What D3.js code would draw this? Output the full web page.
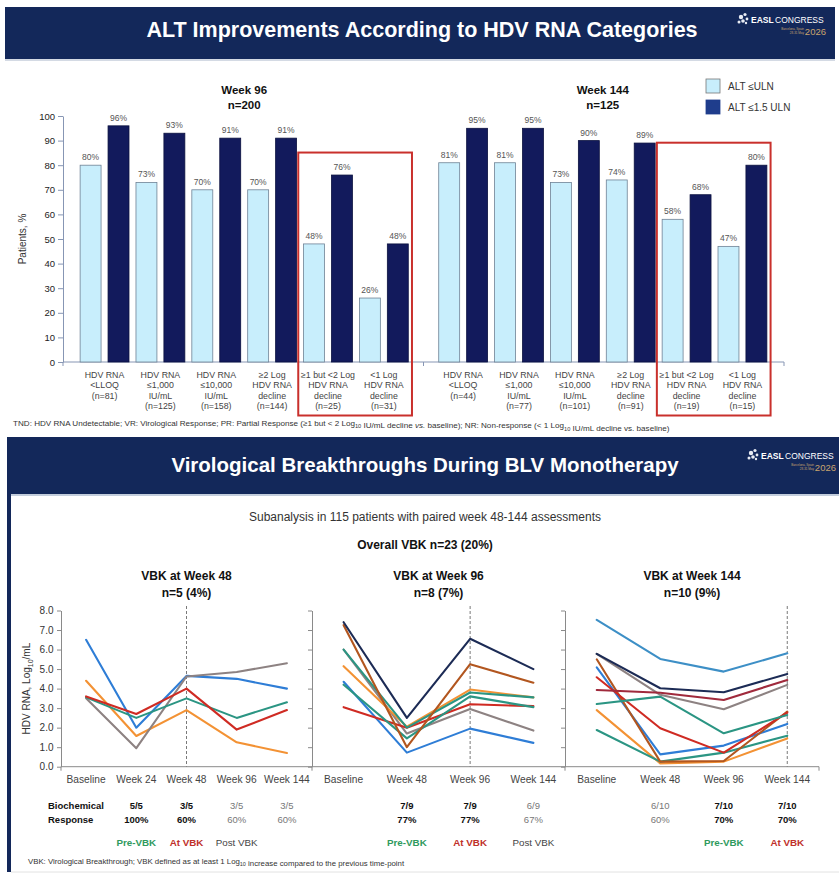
<!DOCTYPE html>
<html><head><meta charset="utf-8">
<script src="https://cdn.jsdelivr.net/npm/d3@7"></script>
<style>
body{margin:0;background:#fff;}
svg{display:block;}
</style></head><body>
<script>
// ---------------- DATA ----------------
const altCategoryLines = [["HDV RNA","<LLOQ"],["HDV RNA","≤1,000","IU/mL"],["HDV RNA","≤10,000","IU/mL"],["≥2 Log","HDV RNA","decline"],["≥1 but <2 Log","HDV RNA","decline"],["<1 Log","HDV RNA","decline"]];
const altGroups = ["Week 96","Week 144"];
const altGroupN = ["n=200","n=125"];
const altSeries = ["ALT ≤ULN","ALT ≤1.5 ULN"];
const week96N = [81,125,158,144,25,31];
const week144N = [44,77,101,91,19,15];
const week96AltUln = [80,73,70,70,48,26];
const week96Alt15Uln = [96,93,91,91,76,48];
const week144AltUln = [81,81,73,74,58,47];
const week144Alt15Uln = [95,95,90,89,68,80];
const altYTicks = [0,10,20,30,40,50,60,70,80,90,100];
const altHighlighted = [4,5];

const vbkTime48 = ["Baseline","Week 24","Week 48","Week 96","Week 144"];
const vbkTime = ["Baseline","Week 48","Week 96","Week 144"];
const vbkYTicks = [0,1,2,3,4,5,6,7,8];
const vbkPanelTitles = ["VBK at Week 48","VBK at Week 96","VBK at Week 144"];
const vbkPanelN = ["n=5 (4%)","n=8 (7%)","n=10 (9%)"];
const vbkAt = ["Week 48","Week 96","Week 144"];
const vbk48Values = [
  [6.5, 2.0, 4.65, 4.5, 4.0],
  [4.4, 1.57, 2.9, 1.25, 0.7],
  [3.5, 0.95, 4.62, 4.85, 5.3],
  [3.55, 2.5, 3.5, 2.5, 3.3],
  [3.6, 2.7, 4.0, 1.9, 2.9]
];
const vbk96Values = [
  [4.35, 0.72, 1.95, 1.22],
  [6.0, 1.7, 2.95, 1.85],
  [3.05, 2.0, 3.2, 3.1],
  [4.2, 1.45, 3.6, 3.05],
  [5.15, 2.05, 3.95, 3.55],
  [6.0, 2.0, 3.8, 3.55],
  [7.25, 1.0, 5.25, 4.3],
  [7.4, 2.5, 6.55, 5.0]
];
const vbk144Values = [
  [2.9, 0.17, 0.26, 1.45],
  [1.88, 0.26, 0.72, 1.59],
  [5.09, 0.63, 1.08, 2.19],
  [5.5, 0.26, 0.29, 2.82],
  [4.58, 1.97, 0.72, 2.77],
  [3.21, 3.59, 1.71, 2.65],
  [5.78, 3.68, 2.94, 4.19],
  [3.93, 3.79, 3.42, 4.44],
  [5.78, 4.02, 3.81, 4.75],
  [7.52, 5.52, 4.87, 5.81]
];
const bio48Ratio = ["","5/5","3/5","3/5","3/5"];
const bio48Pct = ["","100%","60%","60%","60%"];
const bio96Ratio = ["","7/9","7/9","6/9"];
const bio96Pct = ["","77%","77%","67%"];
const bio144Ratio = ["","6/10","7/10","7/10"];
const bio144Pct = ["","60%","70%","70%"];
const phase48 = ["","Pre-VBK","At VBK","Post VBK",""];
const phase96 = ["","Pre-VBK","At VBK","Post VBK"];
const phase144 = ["","","Pre-VBK","At VBK"];

// ---------------- STYLE ----------------
const FONT = '"Liberation Sans", Arial, Helvetica, sans-serif';
const NAVY = "#13285a";
const C = {blue:"#2e7dd6", lblue:"#3d8fc6", orange:"#f39234", red:"#cf2b23", teal:"#2b9583",
           gray:"#8d8282", navy:"#1c2b55", rust:"#b2561f", maroon:"#a02a3c"};
const vbk48Colors = [C.blue, C.orange, C.gray, C.teal, C.red];
const vbk96Colors = [C.blue, C.gray, C.red, C.teal, C.orange, C.teal, C.rust, C.navy];
const vbk144Colors = [C.orange, C.teal, C.blue, C.rust, C.red, C.teal, C.gray, C.maroon, C.navy, C.lblue];
const phaseColors = {"Pre-VBK":"#2f9a5e","At VBK":"#c0302a","Post VBK":"#444"};

const W = 839, H = 882;
const svg = d3.select("body").append("svg").attr("width",W).attr("height",H).style("font-family",FONT);
svg.append("rect").attr("width",W).attr("height",H).attr("fill","#fff");

function richText(g, x, y, size, fill, parts){
  const t = g.append("text").attr("x",x).attr("y",y).attr("font-size",size).attr("fill",fill);
  parts.forEach(p=>{
    const [s,type] = p;
    if(type==="sub"){
      t.append("tspan").attr("dy",size*0.3).attr("font-size",size*0.7).text(s);
      t.append("tspan").attr("dy",-size*0.3).text("");
    } else if(type==="i"){
      t.append("tspan").attr("font-style","italic").text(s);
    } else t.append("tspan").text(s);
  });
  return t;
}

function drawLogo(right, top){
  const l = svg.append("g").attr("transform",`translate(${right},${top})`);
  [[-85,5,2.2],[-81,2.5,1.6],[-83,9,1.8],[-79,7,1.4],[-87,10,1.5],[-80,11,1.2]].forEach(c=>
    l.append("circle").attr("cx",c[0]).attr("cy",c[1]).attr("r",c[2]).attr("fill","#e8ecf4"));
  l.append("text").attr("x",-75).attr("y",11).attr("font-size",8.5).attr("font-weight","bold").attr("fill","#fff").text("EASL");
  l.append("text").attr("x",-51).attr("y",11).attr("font-size",8.5).attr("fill","#fff").text("CONGRESS");
  l.append("text").attr("x",0).attr("y",22.5).attr("text-anchor","end").attr("font-size",9.5).attr("fill","#c9a46e").text("2026");
  l.append("text").attr("x",-22).attr("y",17.5).attr("text-anchor","end").attr("font-size",3).attr("fill","#c9a46e").text("Barcelona, Spain");
  l.append("text").attr("x",-22).attr("y",21.5).attr("text-anchor","end").attr("font-size",3).attr("fill","#c9a46e").text("28-31 May");
}

// ================= TOP SLIDE =================
svg.append("rect").attr("x",5).attr("y",7).attr("width",830).attr("height",52).attr("fill",NAVY);
svg.append("rect").attr("x",5).attr("y",59).attr("width",830).attr("height",2).attr("fill","#d4dae4");
svg.append("text").attr("x",422).attr("y",37).attr("text-anchor","middle").attr("fill","#fff")
  .attr("font-size",21.5).attr("font-weight","bold").text("ALT Improvements According to HDV RNA Categories");
drawLogo(826, 12);

const altTable = [
  {group:altGroups[0], n:altGroupN[0], cats:week96N, vals:[week96AltUln, week96Alt15Uln]},
  {group:altGroups[1], n:altGroupN[1], cats:week144N, vals:[week144AltUln, week144Alt15Uln]}
];
const yAlt = d3.scaleLinear().domain([0,100]).range([362,116]);
const xGroup = d3.scaleBand().domain(altGroups).range([63,784]).paddingInner(0.0654).paddingOuter(0.038);
const xCat = d3.scaleBand().domain(d3.range(altCategoryLines.length)).range([0,xGroup.bandwidth()]);
const xSer = d3.scaleBand().domain(altSeries).range([0,xCat.bandwidth()]).paddingInner(0.25).paddingOuter(0.125);
const barFill = ["#c8eefc","#121a5c"];
const barStroke = ["#6f8295","#0b113f"];

// y axis
const yAx = svg.append("g").attr("transform","translate(63,0)")
  .call(d3.axisLeft(yAlt).tickValues(altYTicks).tickSize(5).tickSizeOuter(0).tickPadding(3));
yAx.select(".domain").attr("stroke","#8796b4");
yAx.selectAll(".tick line").attr("stroke","#8796b4");
yAx.selectAll(".tick text").attr("font-size",9.5).attr("fill","#222").attr("font-family",FONT);
svg.append("text").attr("transform",`translate(26,${(yAlt(0)+yAlt(100))/2}) rotate(-90)`)
  .attr("text-anchor","middle").attr("font-size",10).attr("fill","#333").text("Patients, %");

// x axis line
const [xr0,xr1] = xGroup.range();
svg.append("line").attr("x1",xr0).attr("x2",xr1).attr("y1",yAlt(0)).attr("y2",yAlt(0)).attr("stroke","#8796b4");
const midTick = (xGroup(altGroups[0])+xGroup.bandwidth()+xGroup(altGroups[1]))/2;
[xr0, midTick, xr1].forEach(x=> svg.append("line").attr("x1",x).attr("x2",x).attr("y1",yAlt(0)).attr("y2",yAlt(0)+4).attr("stroke","#8796b4"));

altTable.forEach(gd=>{
  const gx = xGroup(gd.group);
  const g = svg.append("g").attr("transform",`translate(${gx},0)`);
  g.append("text").attr("x",xGroup.bandwidth()/2).attr("y",94).attr("text-anchor","middle")
    .attr("font-size",11.5).attr("font-weight","bold").attr("fill","#111").text(gd.group);
  g.append("text").attr("x",xGroup.bandwidth()/2).attr("y",109).attr("text-anchor","middle")
    .attr("font-size",11.5).attr("font-weight","bold").attr("fill","#111").text(gd.n);
  altCategoryLines.forEach((lines,i)=>{
    const cx = xCat(i);
    altSeries.forEach((s,si)=>{
      const v = gd.vals[si][i];
      g.append("rect").attr("x",cx+xSer(s)).attr("y",yAlt(v)).attr("width",xSer.bandwidth())
        .attr("height",yAlt(0)-yAlt(v)).attr("fill",barFill[si]).attr("stroke",barStroke[si]).attr("stroke-width",0.8);
      g.append("text").attr("x",cx+xSer(s)+xSer.bandwidth()/2).attr("y",yAlt(v)-5).attr("text-anchor","middle")
        .attr("font-size",8.5).attr("fill","#555").text(v+"%");
    });
    const allLines = lines.concat([`(n=${gd.cats[i]})`]);
    const t = g.append("text").attr("text-anchor","middle").attr("font-size",8.8).attr("fill","#444");
    allLines.forEach((ln,li)=> t.append("tspan").attr("x",cx+xCat.bandwidth()/2).attr("y",378+li*10.3).text(ln));
  });
  const hx0 = xCat(altHighlighted[0]) - 1.8;
  const hx1 = xCat(altHighlighted[altHighlighted.length-1]) + xCat.bandwidth() + 0.2;
  const hmax = d3.max(altHighlighted, i=> Math.max(gd.vals[0][i], gd.vals[1][i]));
  const top = yAlt(hmax) - 22.5;
  g.append("rect").attr("x",hx0).attr("y",top).attr("width",hx1-hx0).attr("height",415.5-top)
    .attr("fill","none").attr("stroke","#c9302c").attr("stroke-width",2);
});

// legend
altSeries.forEach((s,si)=>{
  svg.append("rect").attr("x",706).attr("y",79+si*21).attr("width",14).attr("height",14)
    .attr("fill", si===0 ? "#c8eefc" : "#1f3d8c").attr("stroke", si===0 ? "#777" : "#1f3d8c").attr("stroke-width",0.8);
  svg.append("text").attr("x",728).attr("y",90+si*21).attr("font-size",10).attr("fill","#333").text(s);
});

richText(svg, 13, 426, 8.1, "#333", [
  ["TND: HDV RNA Undetectable; VR: Virological Response; PR: Partial Response (≥1 but < 2 Log",""],["10","sub"],
  [" IU/mL decline ",""],["vs.","i"],[" baseline); NR: Non-response (< 1 Log",""],["10","sub"],[" IU/mL decline vs. baseline)",""]
]);

// ================= BOTTOM SLIDE =================
svg.append("rect").attr("x",8).attr("y",437).attr("width",831).attr("height",57).attr("fill",NAVY);
svg.append("rect").attr("x",7).attr("y",437).attr("width",4).attr("height",435).attr("fill",NAVY);
svg.append("rect").attr("x",11).attr("y",494).attr("width",828).attr("height",2).attr("fill","#c3cddc");
svg.append("line").attr("x1",11).attr("x2",839).attr("y1",872).attr("y2",872).attr("stroke","#e2e2e2");
svg.append("text").attr("x",425).attr("y",472).attr("text-anchor","middle").attr("fill","#fff")
  .attr("font-size",20.5).attr("font-weight","bold").text("Virological Breakthroughs During BLV Monotherapy");
drawLogo(836, 448);
svg.append("text").attr("x",425).attr("y",521).attr("text-anchor","middle").attr("font-size",12).attr("fill","#333")
  .text("Subanalysis in 115 patients with paired week 48-144 assessments");
svg.append("text").attr("x",425).attr("y",549).attr("text-anchor","middle").attr("font-size",12).attr("font-weight","bold").attr("fill","#111")
  .text("Overall VBK n=23 (20%)");

const yVbk = d3.scaleLinear().domain([0,8]).range([766.7,610.5]);
const panels = [
  {left:61, right:312, time:vbkTime48, vals:vbk48Values, colors:vbk48Colors, ratio:bio48Ratio, pct:bio48Pct, phase:phase48, labels:true},
  {left:312, right:565, time:vbkTime, vals:vbk96Values, colors:vbk96Colors, ratio:bio96Ratio, pct:bio96Pct, phase:phase96, labels:false},
  {left:565, right:819, time:vbkTime, vals:vbk144Values, colors:vbk144Colors, ratio:bio144Ratio, pct:bio144Pct, phase:phase144, labels:false}
];

svg.append("line").attr("x1",61).attr("x2",819).attr("y1",yVbk(0)).attr("y2",yVbk(0)).attr("stroke","#8a8a8a");
[61,312,565,819].forEach(x=> svg.append("line").attr("x1",x).attr("x2",x).attr("y1",yVbk(0)).attr("y2",yVbk(0)+4).attr("stroke","#8a8a8a"));

panels.forEach((p,pi)=>{
  const x = d3.scalePoint().domain(p.time).range([p.left,p.right]).padding(0.5);
  const ax = svg.append("g").attr("transform",`translate(${p.left},0)`)
    .call(d3.axisLeft(yVbk).tickValues(vbkYTicks).tickSize(4).tickSizeOuter(0).tickPadding(3.5)
      .tickFormat(p.labels ? d3.format(".1f") : ()=>""));
  ax.select(".domain").attr("stroke","#8a8a8a");
  ax.selectAll(".tick line").attr("stroke","#8a8a8a");
  ax.selectAll(".tick text").attr("font-size",10).attr("fill","#333").attr("font-family",FONT);

  const cx = (p.left+p.right)/2;
  svg.append("text").attr("x",cx).attr("y",580).attr("text-anchor","middle").attr("font-size",12).attr("font-weight","bold").attr("fill","#111").text(vbkPanelTitles[pi]);
  svg.append("text").attr("x",cx).attr("y",597).attr("text-anchor","middle").attr("font-size",12).attr("font-weight","bold").attr("fill","#111").text(vbkPanelN[pi]);

  svg.append("line").attr("x1",x(vbkAt[pi])).attr("x2",x(vbkAt[pi])).attr("y1",606).attr("y2",yVbk(0))
    .attr("stroke","#7a7a7a").attr("stroke-width",1).attr("stroke-dasharray","3,2");

  const line = d3.line().x((d,i)=>x(p.time[i])).y(d=>yVbk(d));
  p.vals.forEach((vals,si)=>{
    svg.append("path").attr("d",line(vals)).attr("fill","none").attr("stroke",p.colors[si])
      .attr("stroke-width",2.1).attr("stroke-linejoin","round").attr("stroke-linecap","round");
  });

  p.time.forEach((t,i)=>{
    svg.append("text").attr("x",x(t)).attr("y",783).attr("text-anchor","middle").attr("font-size",10.2).attr("fill","#444").text(t);
    const strong = p.phase[i]==="Pre-VBK" || p.phase[i]==="At VBK";
    if(p.ratio[i]){
      svg.append("text").attr("x",x(t)).attr("y",809).attr("text-anchor","middle").attr("font-size",9.5)
        .attr("font-weight",strong?"bold":"normal").attr("fill",strong?"#111":"#777").text(p.ratio[i]);
      svg.append("text").attr("x",x(t)).attr("y",823).attr("text-anchor","middle").attr("font-size",9.5)
        .attr("font-weight",strong?"bold":"normal").attr("fill",strong?"#111":"#777").text(p.pct[i]);
    }
    if(p.phase[i]){
      svg.append("text").attr("x",x(t)).attr("y",846).attr("text-anchor","middle").attr("font-size",9.8)
        .attr("font-weight",p.phase[i]==="Post VBK"?"normal":"bold").attr("fill",phaseColors[p.phase[i]]).text(p.phase[i]);
    }
  });
});

const yt = svg.append("text").attr("transform",`translate(30,${(yVbk(0)+yVbk(8))/2}) rotate(-90)`)
  .attr("text-anchor","middle").attr("font-size",10).attr("fill","#333");
yt.append("tspan").text("HDV RNA, Log");
yt.append("tspan").attr("dy",2.5).attr("font-size",7).text("10");
yt.append("tspan").attr("dy",-2.5).text("/mL");

svg.append("text").attr("x",48).attr("y",809).attr("font-size",9.5).attr("font-weight","bold").attr("fill","#111").text("Biochemical");
svg.append("text").attr("x",48).attr("y",823).attr("font-size",9.5).attr("font-weight","bold").attr("fill","#111").text("Response");

richText(svg, 28, 864, 7.8, "#333", [
  ["VBK: Virological Breakthrough; VBK defined as at least 1 Log",""],["10","sub"],[" increase compared to the previous time-point",""]
]);
</script>
</body></html>
